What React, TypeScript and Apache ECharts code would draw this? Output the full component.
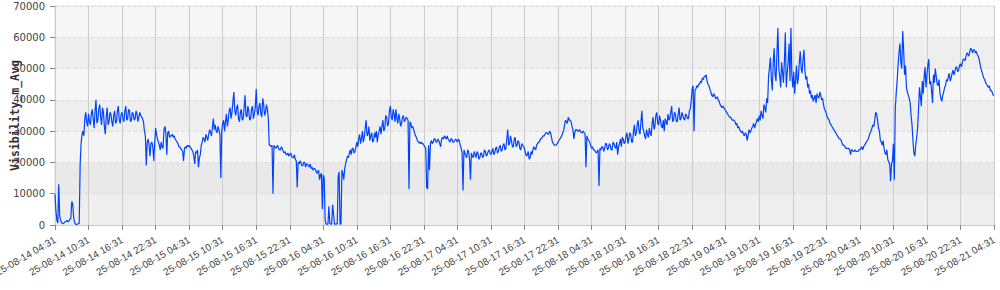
import React, { useEffect, useRef } from "react";
import * as echarts from "echarts";

// Start of record: 2025-08-14 04:31, one value every 10 minutes
const startDay = 14;
const startMinuteOfDay = 271;
const stepMinutes = 10;
const pointsPerLabel = 36; // 6 hours

const day1 = [
  9800, 4500, 1500, 600, 13000, 3000, 1500, 800, 500, 400, 800, 1100, 1200, 1500, 1000, 1300, 1800, 2200, 7500, 6800, 2500, 800, 300, 200, 300, 400, 500, 19500, 26000, 29000, 30000, 28500, 34000, 36000, 33000, 31500,
  35500, 33000, 32000, 35500, 37000, 34000, 31000, 36500, 40000, 32500, 33500, 37000, 38500, 34500, 32000, 37500, 36000, 31500, 29000, 34500, 37500, 32000, 33000, 36000, 35500, 33000, 31500, 35000, 36500, 32500, 33000, 36500, 38000, 33500, 32500, 35500,
  36000, 34000, 33000, 36500, 38000, 33500, 34000, 37000, 36500, 33000, 33500, 36000, 35500, 33500, 34000, 36500, 35500, 33000, 34500, 36000, 35000, 34500, 34000, 33000, 30000, 28500, 19000, 26500, 27500, 25500, 22000, 26000, 26500, 25000, 20500, 26000,
  31000, 29000, 27500, 26500, 25500, 24000, 26500, 25000, 24500, 30500, 31500, 29500, 22500, 29500, 30000, 28000, 28500, 28500, 29000, 28000, 28500, 27500, 27000, 26500, 26000, 25000, 25000, 24500, 24000, 23500, 20500, 24500, 25000, 24500, 25500, 25000,
];
const day2 = [
  25500, 25000, 24500, 24000, 23500, 22000, 19500, 23500, 23000, 24000, 18500, 21500, 22500, 25500, 26500, 28000, 27500, 26500, 29000, 28000, 27000, 29000, 30500, 29500, 28500, 31500, 34000, 30500, 32000, 30000, 29500, 31500, 30500, 29000, 15000, 30000,
  32500, 33500, 30000, 33000, 35500, 31500, 33500, 36500, 37500, 34000, 36000, 39500, 42500, 36500, 35000, 37500, 38500, 34000, 33000, 36000, 37000, 33500, 34000, 37500, 41500, 35000, 34500, 38000, 36500, 33500, 34000, 37000, 38000, 34000, 35500, 37500,
  43500, 36500, 35000, 38000, 39000, 35500, 34500, 40500, 38500, 35000, 36000, 38500, 37000, 34000, 25500, 25500, 25000, 25500, 10000, 25500, 25000, 24500, 25000, 25500, 24500, 24000, 24000, 25000, 24500, 23500, 23000, 23500, 22500, 22500, 23000, 22000,
  22500, 23000, 22000, 21500, 21500, 22500, 21000, 20500, 12000, 20000, 19500, 20500, 20000, 19000, 19000, 20000, 20000, 18500, 19500, 19500, 19000, 18500, 19500, 18000, 18500, 17500, 18000, 18000, 17500, 16500, 17000, 17500, 14500, 16000, 16500, 5000,
];
const day3 = [
  16000, 15000, 1500, 300, 300, 300, 6000, 500, 300, 300, 6500, 3500, 300, 300, 400, 300, 15500, 17000, 300, 300, 17500, 16500, 14500, 18000, 19500, 21000, 22000, 21500, 23000, 24000, 22500, 24500, 24500, 23000, 23500, 25000,
  26500, 25000, 27500, 29000, 26000, 27500, 30000, 26500, 28000, 31000, 33500, 28500, 29000, 31500, 27000, 28500, 29500, 26500, 27000, 29500, 28000, 30000, 26500, 29000, 30000, 31500, 29000, 31500, 33500, 30000, 31000, 35000, 34500, 31500, 32500, 36500,
  38000, 34500, 33500, 37000, 35500, 33000, 37000, 34000, 32500, 35500, 34000, 31500, 32500, 34500, 35000, 33000, 33500, 34500, 34000, 33500, 11500, 33000, 32500, 31000, 31500, 30500, 29500, 28500, 28000, 27000, 26500, 26500, 26000, 26500, 26000, 26000,
  25500, 25000, 24500, 12000, 11500, 25500, 17500, 26000, 27000, 26000, 26500, 27500, 27500, 26500, 26500, 27500, 27000, 26000, 25000, 27500, 28000, 27500, 28500, 28000, 27500, 28500, 27500, 27000, 26500, 27500, 27500, 26500, 26500, 27000, 27500, 27000,
];
const day4 = [
  26500, 27500, 27000, 25500, 24500, 23000, 11000, 24000, 23000, 22000, 21500, 24000, 23500, 21000, 14500, 23000, 22000, 21500, 23500, 22500, 21500, 23500, 23000, 21000, 21500, 23000, 23000, 21500, 22000, 24000, 23500, 22000, 22500, 23500, 24000, 23000,
  22500, 23500, 24500, 22500, 23000, 24500, 25000, 23000, 23500, 25000, 25500, 23500, 24000, 25500, 26000, 24000, 24500, 27500, 30500, 25500, 26000, 28500, 27000, 25000, 25000, 27500, 28000, 25000, 25500, 27000, 26500, 24500, 24000, 26000, 25500, 25000,
  24500, 23000, 22000, 22500, 23500, 21000, 21500, 23500, 22500, 24000, 25000, 24500, 24000, 25500, 26000, 26500, 26500, 27500, 27500, 28000, 28500, 28500, 29000, 29500, 29500, 29000, 29000, 30000, 29500, 28000, 26500, 26000, 25500, 25500, 25500, 26000,
  26500, 27000, 27500, 28000, 28500, 29500, 30000, 32000, 33500, 33000, 32500, 34500, 33500, 33500, 33000, 31500, 30500, 27500, 29500, 30500, 30500, 30000, 30000, 30500, 30000, 29500, 29500, 30000, 29500, 29000, 18500, 28500, 27500, 27000, 26500, 25500,
];
const day5 = [
  24500, 25000, 24000, 24000, 23500, 23000, 23500, 24000, 12500, 24500, 24000, 25000, 25000, 23500, 24500, 26000, 26000, 24000, 24500, 26000, 25500, 24000, 24000, 26500, 26000, 25000, 24500, 26500, 22500, 25000, 26000, 27500, 25000, 28000, 27500, 26000,
  26500, 28500, 29500, 26000, 27500, 29500, 29000, 26500, 26500, 30000, 32000, 28500, 29500, 32000, 33500, 30000, 29000, 33000, 36500, 31000, 30000, 28500, 27500, 30500, 29000, 28000, 31000, 29500, 28500, 32500, 34500, 30500, 31500, 35000, 36000, 32500,
  32000, 35000, 33500, 31500, 31000, 33500, 30000, 34000, 33000, 32000, 35500, 33500, 34000, 36000, 38000, 33000, 33500, 36000, 35500, 33000, 33000, 35500, 37500, 33500, 34000, 36000, 35000, 34000, 33500, 35500, 35000, 34000, 34000, 36500, 37000, 40000,
  43500, 44500, 30000, 43000, 43500, 44500, 44000, 45000, 45000, 46000, 45500, 47000, 46500, 47500, 47500, 48000, 46000, 45000, 44500, 43500, 42500, 41500, 41000, 42000, 41500, 40500, 40500, 41000, 40000, 39500, 38500, 38000, 37500, 38000, 37500, 37000,
];
const day6 = [
  36500, 36000, 35500, 35000, 34500, 34500, 34000, 33500, 33500, 33500, 33000, 32000, 32500, 31000, 31500, 30500, 30000, 29500, 30000, 29000, 28500, 29500, 29000, 27000, 28500, 30500, 29500, 30000, 31000, 31500, 32500, 31000, 32000, 33000, 34000, 33000,
  35000, 33500, 36500, 35000, 34000, 38500, 37500, 36000, 40500, 39000, 47500, 50500, 53500, 46500, 43000, 52000, 56500, 48000, 46000, 55000, 63000, 50000, 47500, 44000, 52000, 49000, 45500, 52500, 61500, 44000, 48500, 52000, 58000, 46000, 63000, 48000,
  44000, 49000, 42000, 46500, 51000, 45000, 47000, 52000, 55500, 50000, 48500, 53000, 56000, 49500, 46500, 47500, 44000, 45000, 42000, 43000, 40500, 41500, 39500, 40500, 41500, 39000, 42000, 41000, 40500, 42500, 41500, 40000, 40500, 38500, 37000, 36500,
  35500, 34500, 34000, 33500, 32500, 32000, 31500, 31000, 30500, 30000, 29500, 29000, 28500, 28000, 27500, 27500, 27000, 26000, 25500, 25500, 25000, 24500, 24500, 24500, 24500, 24000, 22500, 24000, 24000, 23500, 23500, 24000, 23500, 23500, 23500, 24000,
];
const day7 = [
  24000, 24500, 25000, 24000, 25000, 25500, 26000, 26500, 27000, 27500, 28500, 29500, 30000, 31000, 32000, 31500, 33500, 36000, 35500, 33500, 31000, 30000, 27000, 26500, 25500, 27000, 24500, 23000, 22500, 24000, 21000, 20000, 19500, 14000, 19500, 20500,
  26000, 14500, 37000, 42000, 46000, 51000, 55000, 58000, 52000, 50000, 62000, 56000, 48000, 51000, 44000, 42500, 41500, 40500, 39000, 35000, 32000, 27000, 23000, 22000, 25500, 28000, 31000, 37000, 44000, 41000, 38000, 46000, 42000, 47500, 50500, 44000,
  48000, 51000, 53000, 45000, 46000, 43000, 39000, 48000, 45500, 50000, 47500, 45000, 44500, 46500, 42000, 40500, 39500, 41500, 42500, 44000, 44500, 46500, 46000, 47500, 48500, 46000, 47000, 48500, 49500, 48000, 49000, 50500, 50500, 49000, 49500, 51000,
  51500, 50500, 52000, 53000, 53000, 52500, 54000, 55000, 54500, 54000, 55500, 56500, 56000, 55000, 56000, 56000, 55000, 55500, 54500, 54000, 53000, 51500, 50000, 49000, 48000, 47000, 46500, 45500, 45000, 44500, 44000, 44500, 43000, 43000, 42500, 41500, 41500,
];

const visibility = [...day1, ...day2, ...day3, ...day4, ...day5, ...day6, ...day7];

const yTicks = [0, 10000, 20000, 30000, 40000, 50000, 60000, 70000];

const pad = (n: number) => (n < 10 ? "0" + n : "" + n);
const timeLabels = visibility.map((_, i) => {
  const total = startMinuteOfDay + i * stepMinutes;
  const day = startDay + Math.floor(total / 1440);
  const m = total % 1440;
  return `25-08-${pad(day)} ${pad(Math.floor(m / 60))}:${pad(m % 60)}`;
});

export default function App() {
  const ref = useRef<HTMLDivElement>(null);
  useEffect(() => {
    document.body.style.margin = "0";
    if (!ref.current) return;
    const chart = echarts.init(ref.current, undefined, { renderer: "svg" });
    const labelInterval = pointsPerLabel - 1;
    chart.setOption({
      animation: false,
      backgroundColor: "#ffffff",
      grid: {
        left: 55,
        right: 6,
        top: 6,
        bottom: 65,
        containLabel: false,
        outerBoundsMode: "none",
        show: true,
        borderColor: "#dddddd",
        borderWidth: 1,
        backgroundColor: "transparent",
      },
      xAxis: {
        type: "category",
        data: timeLabels,
        boundaryGap: false,
        axisLine: { show: true, lineStyle: { color: "#cccccc" } },
        axisTick: { show: true, interval: labelInterval, length: 5, lineStyle: { color: "#888888" } },
        axisLabel: {
          interval: labelInterval,
          rotate: 30,
          fontSize: 10,
          color: "#444444",
          fontFamily: "Liberation Sans, Arial, sans-serif",
          margin: 14,
          showMinLabel: true,
          showMaxLabel: true,
        },
        splitLine: { show: true, interval: labelInterval, lineStyle: { color: "#cccccc", width: 1 } },
      },
      yAxis: {
        type: "value",
        min: yTicks[0],
        max: yTicks[yTicks.length - 1],
        interval: 10000,
        name: "Visibility_m_Avg",
        nameLocation: "middle",
        nameGap: 34,
        nameMoveOverlap: false,
        nameTextStyle: {
          fontFamily: "DejaVu Sans Mono, monospace",
          fontWeight: "bold",
          fontSize: 11.5,
          color: "#333333",
        },
        axisLine: { show: true, lineStyle: { color: "#cccccc" } },
        axisTick: { show: true, length: 5, lineStyle: { color: "#888888" } },
        axisLabel: {
          fontSize: 10,
          color: "#444444",
          fontFamily: "DejaVu Sans, sans-serif",
          margin: 10,
          formatter: (v: number) => String(v),
        },
        splitLine: { show: true, lineStyle: { color: "#dddddd", type: "dashed", width: 1 } },
        splitArea: {
          show: true,
          areaStyle: {
            color: ["#eeeeee", "#e9e9e9", "#f4f4f4", "#eeeeee", "#f6f6f6", "#eeeeee", "#f6f6f6"],
          },
        },
      },
      series: [
        {
          type: "line",
          data: visibility,
          showSymbol: false,
          symbol: "none",
          lineStyle: { color: "#0043ff", width: 1.2 },
          itemStyle: { color: "#0043ff" },
        },
      ],
    });
    return () => chart.dispose();
  }, []);
  return <div ref={ref} style={{ width: 1000, height: 290 }} />;
}
